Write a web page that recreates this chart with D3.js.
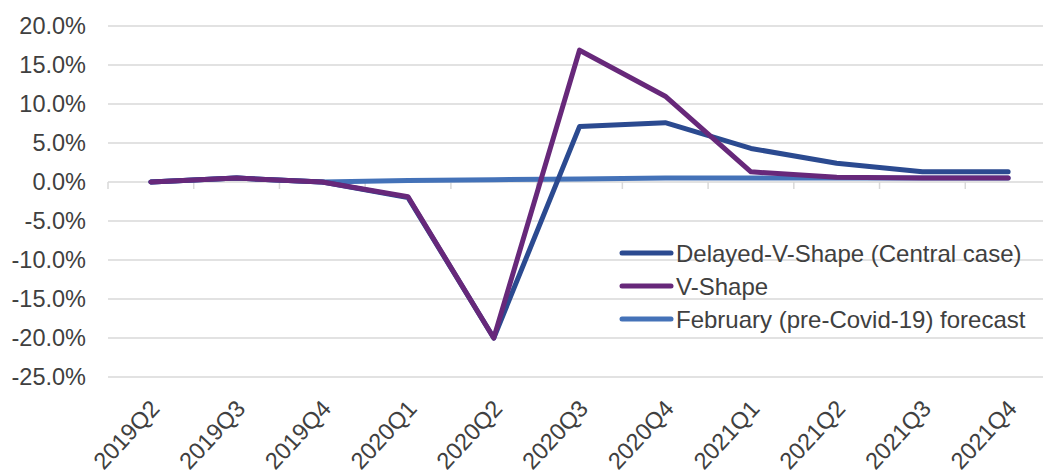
<!DOCTYPE html>
<html><head><meta charset="utf-8">
<script src="https://cdn.jsdelivr.net/npm/d3@7"></script>
<style>body{margin:0;background:#fff}svg{display:block}text{font-family:"Liberation Sans",Arial,sans-serif;fill:#404040}</style>
</head><body><svg id="c" width="1043" height="474"></svg>
<script>
const categories=["2019Q2","2019Q3","2019Q4","2020Q1","2020Q2","2020Q3","2020Q4","2021Q1","2021Q2","2021Q3","2021Q4"];
const delayedV=[0,0.5,0,-2,-20,7.1,7.6,4.3,2.4,1.3,1.3];
const vShape=[0,0.5,0,-1.9,-20,16.9,11.0,1.3,0.6,0.5,0.5];
const february=[0,0.5,0,0.2,0.3,0.4,0.5,0.5,0.5,0.5,0.5];
const yTicks=[20,15,10,5,0,-5,-10,-15,-20,-25];
const seriesNames=["Delayed-V-Shape (Central case)","V-Shape","February (pre-Covid-19) forecast"];
const colors=["#2B4A90","#67287A","#4472B8"];

const svg=d3.select("#c");
const x=d3.scaleBand().domain(categories).range([108,1051]);
const y=d3.scaleLinear().domain([-25,20]).range([377,26]);
const grid="#d9d9d9";
svg.append("g").selectAll("line").data(yTicks).join("line")
 .attr("x1",108).attr("x2",1043).attr("y1",d=>y(d)).attr("y2",d=>y(d))
 .attr("stroke",grid).attr("stroke-width",1.5);
svg.append("g").selectAll("text").data(yTicks).join("text")
 .attr("x",86).attr("y",d=>y(d)).attr("dy","0.36em").attr("text-anchor","end")
 .attr("font-size",23.5).text(d=>d.toFixed(1)+"%");
const bounds=categories.map(c=>x(c)).concat([x.range()[1]]);
svg.append("g").selectAll("line").data(bounds).join("line")
 .attr("x1",d=>d).attr("x2",d=>d).attr("y1",y(0)).attr("y2",y(0)+7)
 .attr("stroke",grid).attr("stroke-width",1.5);
svg.append("g").selectAll("text").data(categories).join("text")
 .attr("transform",d=>`translate(${x(d)+x.bandwidth()/2+4},${404}) rotate(-47)`)
 .attr("text-anchor","end").attr("dy","0.35em").attr("font-size",23.5).text(d=>d);
const line=d3.line().x((d,i)=>x(categories[i])+x.bandwidth()/2).y(d=>y(d));
[february,delayedV,vShape].forEach((s,k)=>{
 const ci=[2,0,1][k];
 svg.append("path").datum(s).attr("d",line).attr("fill","none")
  .attr("stroke",colors[ci]).attr("stroke-width",5).attr("stroke-linejoin","round").attr("stroke-linecap","round");
});
const lg=svg.append("g");
seriesNames.forEach((n,i)=>{
 const yy=253+i*33;
 lg.append("line").attr("x1",622).attr("x2",671).attr("y1",yy).attr("y2",yy)
  .attr("stroke",colors[i]).attr("stroke-width",5).attr("stroke-linecap","round");
 lg.append("text").attr("x",676).attr("y",yy).attr("dy","0.36em").attr("font-size",24).text(n);
});
</script></body></html>
